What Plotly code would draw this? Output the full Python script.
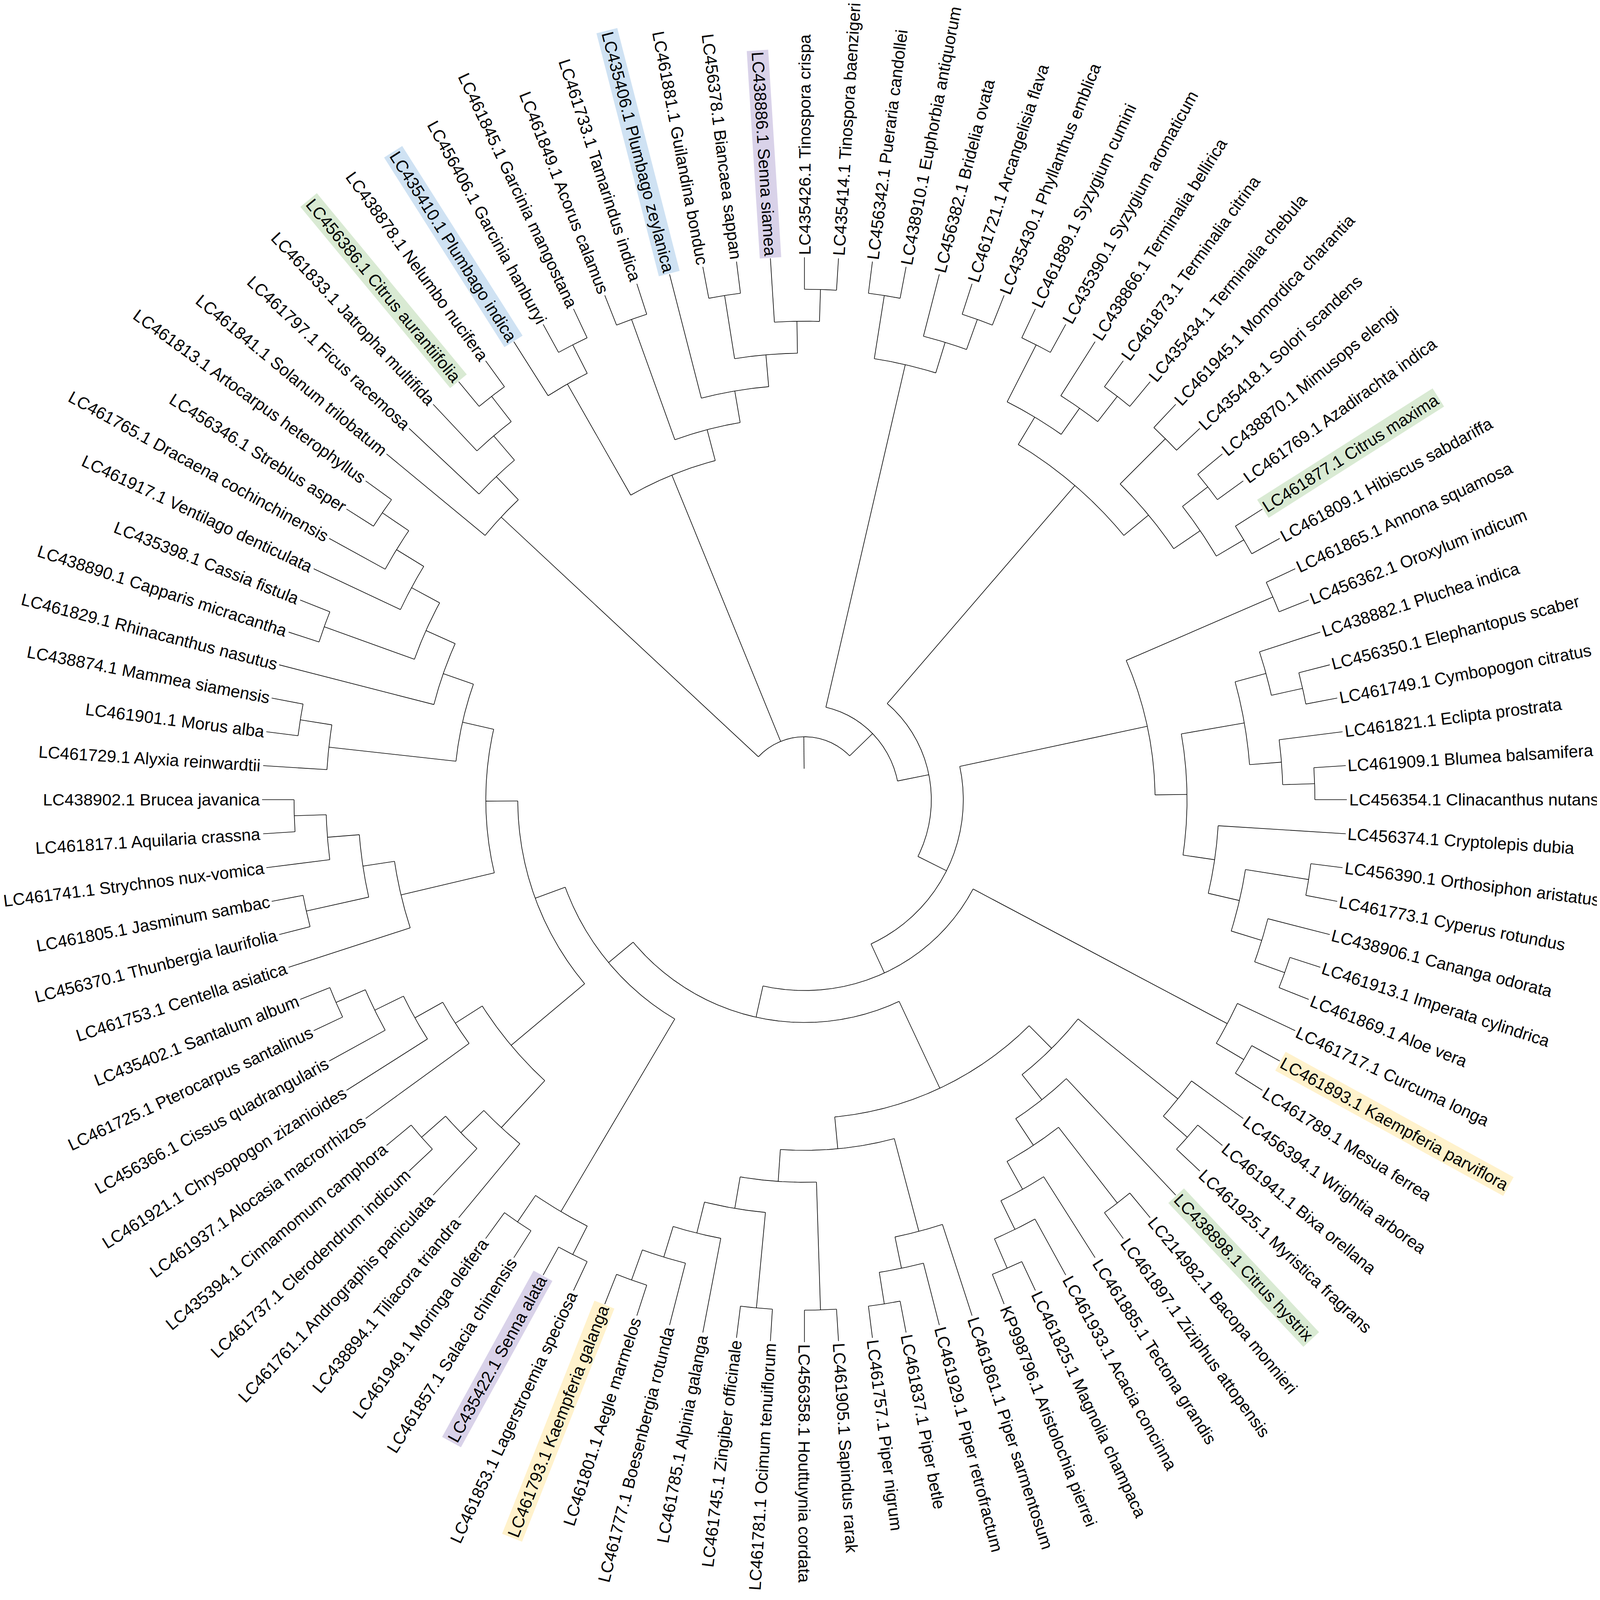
import numpy as np
import plotly.graph_objects as go

# tip labels, numbered clockwise from 12 o'clock (1 = Tinospora crispa)
labels = [
    "LC435426.1 Tinospora crispa", "LC435414.1 Tinospora baenzigeri",
    "LC456342.1 Pueraria candollei", "LC438910.1 Euphorbia antiquorum",
    "LC456382.1 Bridelia ovata", "LC461721.1 Arcangelisia flava",
    "LC435430.1 Phyllanthus emblica", "LC461889.1 Syzygium cumini",
    "LC435390.1 Syzygium aromaticum", "LC438866.1 Terminalia bellirica",
    "LC461873.1 Terminalia citrina", "LC435434.1 Terminalia chebula",
    "LC461945.1 Momordica charantia", "LC435418.1 Solori scandens",
    "LC438870.1 Mimusops elengi", "LC461769.1 Azadirachta indica",
    "LC461877.1 Citrus maxima", "LC461809.1 Hibiscus sabdariffa",
    "LC461865.1 Annona squamosa", "LC456362.1 Oroxylum indicum",
    "LC438882.1 Pluchea indica", "LC456350.1 Elephantopus scaber",
    "LC461749.1 Cymbopogon citratus", "LC461821.1 Eclipta prostrata",
    "LC461909.1 Blumea balsamifera", "LC456354.1 Clinacanthus nutans",
    "LC456374.1 Cryptolepis dubia", "LC456390.1 Orthosiphon aristatus",
    "LC461773.1 Cyperus rotundus", "LC438906.1 Cananga odorata",
    "LC461913.1 Imperata cylindrica", "LC461869.1 Aloe vera",
    "LC461717.1 Curcuma longa", "LC461893.1 Kaempferia parviflora",
    "LC461789.1 Mesua ferrea", "LC456394.1 Wrightia arborea",
    "LC461941.1 Bixa orellana", "LC461925.1 Myristica fragrans",
    "LC438898.1 Citrus hystrix", "LC214982.1 Bacopa monnieri",
    "LC461897.1 Ziziphus attopensis", "LC461885.1 Tectona grandis",
    "LC461933.1 Acacia concinna", "LC461825.1 Magnolia champaca",
    "KP998796.1 Aristolochia pierrei", "LC461861.1 Piper sarmentosum",
    "LC461929.1 Piper retrofractum", "LC461837.1 Piper betle",
    "LC461757.1 Piper nigrum", "LC461905.1 Sapindus rarak",
    "LC456358.1 Houttuynia cordata", "LC461781.1 Ocimum tenuiflorum",
    "LC461745.1 Zingiber officinale", "LC461785.1 Alpinia galanga",
    "LC461777.1 Boesenbergia rotunda", "LC461801.1 Aegle marmelos",
    "LC461793.1 Kaempferia galanga", "LC461853.1 Lagerstroemia speciosa",
    "LC435422.1 Senna alata", "LC461857.1 Salacia chinensis",
    "LC461949.1 Moringa oleifera", "LC438894.1 Tiliacora triandra",
    "LC461761.1 Andrographis paniculata", "LC461737.1 Clerodendrum indicum",
    "LC435394.1 Cinnamomum camphora", "LC461937.1 Alocasia macrorrhizos",
    "LC461921.1 Chrysopogon zizanioides", "LC456366.1 Cissus quadrangularis",
    "LC461725.1 Pterocarpus santalinus", "LC435402.1 Santalum album",
    "LC461753.1 Centella asiatica", "LC456370.1 Thunbergia laurifolia",
    "LC461805.1 Jasminum sambac", "LC461741.1 Strychnos nux-vomica",
    "LC461817.1 Aquilaria crassna", "LC438902.1 Brucea javanica",
    "LC461729.1 Alyxia reinwardtii", "LC461901.1 Morus alba",
    "LC438874.1 Mammea siamensis", "LC461829.1 Rhinacanthus nasutus",
    "LC438890.1 Capparis micracantha", "LC435398.1 Cassia fistula",
    "LC461917.1 Ventilago denticulata", "LC461765.1 Dracaena cochinchinensis",
    "LC456346.1 Streblus asper", "LC461813.1 Artocarpus heterophyllus",
    "LC461841.1 Solanum trilobatum", "LC461797.1 Ficus racemosa",
    "LC461833.1 Jatropha multifida", "LC456386.1 Citrus aurantiifolia",
    "LC438878.1 Nelumbo nucifera", "LC435410.1 Plumbago indica",
    "LC456406.1 Garcinia hanburyi", "LC461845.1 Garcinia mangostana",
    "LC461849.1 Acorus calamus", "LC461733.1 Tamarindus indica",
    "LC435406.1 Plumbago zeylanica", "LC461881.1 Guilandina bonduc",
    "LC456378.1 Biancaea sappan", "LC438886.1 Senna siamea",
]

# topology (cladogram, no branch lengths), tips given by their number above
clade_ficus = (87, (88, (89, (90, 91))))
clade_plumbago = ((92, (93, 94)), ((95, 96), (97, ((98, 99), (100, (1, 2))))))
clade_euphorbia = ((3, 4), (5, (6, 7)))
clade_terminalia = (((8, 9), (10, (11, 12))), ((13, 14), ((15, 16), (17, 18))))
clade_blumea = ((19, 20), (((21, (22, 23)), (24, (25, 26))),
                           (27, ((28, 29), (30, (31, 32))))))
clade_curcuma = (33, (34, 35))
clade_bixa = ((36, (37, 38)), (39, ((40, 41), (42, (43, (44, 45))))))
clade_piper = ((46, (47, (48, 49))), ((50, 51), ((52, 53), (54, (55, (56, 57))))))
clade_senna = ((58, 59), (60, 61))
clade_santalum = ((62, (63, (64, 65))), (66, (67, (68, (69, 70)))))
clade_centella = (71, ((72, 73), (74, (75, 76))))
clade_morus = ((77, (78, 79)), (80, ((81, 82), (83, (84, (85, 86))))))

backbone = (clade_euphorbia, (clade_terminalia, (clade_blumea, (clade_curcuma,
            ((clade_bixa, clade_piper), (clade_senna, (clade_santalum,
            (clade_centella, clade_morus))))))))
tree = (clade_ficus, clade_plumbago, backbone)

# highlighted tips and their fill colours
hl_tips = [90, 92, 97, 100, 17, 34, 39, 57, 59]
hl_colors = ["#d9ead3", "#cfe2f3", "#cfe2f3", "#d9d2e9", "#d9ead3",
             "#fff2cc", "#d9ead3", "#fff2cc", "#d9d2e9"]

# ---- layout (data units = pixels of the 6633 x 6600 picture) ----
IMG_W, IMG_H = 6633, 6600
FIG_W = 4096                     # css width of the page the picture is taken from
K = IMG_W / FIG_W                # picture pixels per css pixel
FIG_H = round(IMG_H / K)
CX, CY = 3322, 3302              # centre of the circle
R0, DR = 261, 132.5              # radius of root and of one cladogram level
STEP = 3.6                       # degrees between tips
FONT = 70 / K
PAD = 5 / K

order = []


def collect(n):
    if isinstance(n, int):
        order.append(n)
    else:
        for c in n:
            collect(c)


collect(tree)
a0 = 90 + STEP * order.index(1)
tip_ang = {t: a0 - STEP * i for i, t in enumerate(order)}


def height(n):
    if isinstance(n, int):
        return 0
    return 1 + max(height(c) for c in n)


HMAX = height(tree)
rad = lambda n: R0 + DR * (HMAX - height(n))

xs, ys = [], []


def seg(r1, r2, a):
    t = np.radians(a)
    xs.extend([r1 * np.cos(t), r2 * np.cos(t), None])
    ys.extend([r1 * np.sin(t), r2 * np.sin(t), None])


def arc(r, a1, a2):
    n = max(2, int(abs(a2 - a1) / 0.4) + 2)
    t = np.radians(np.linspace(a1, a2, n))
    xs.extend(list(r * np.cos(t)) + [None])
    ys.extend(list(r * np.sin(t)) + [None])


def draw(n):
    if isinstance(n, int):
        return tip_ang[n]
    angs = [draw(c) for c in n]
    r = rad(n)
    arc(r, angs[0], angs[-1])
    for c, a in zip(n, angs):
        seg(r, rad(c), a)
    return (angs[0] + angs[-1]) / 2


root_a = draw(tree)
seg(R0 - DR, R0, root_a)

fig = go.Figure()
fig.add_trace(go.Scatter(x=xs, y=ys, mode="lines", hoverinfo="skip",
                         line=dict(color="black", width=2.6 / K)))

cw = {" ": 278, ".": 278, "-": 333}
cw.update({d: 556 for d in "0123456789"})
cw.update(dict(zip("ABCDEFGHIJKLMNOPQRSTUVWXYZ",
                   [667, 667, 722, 722, 667, 611, 778, 722, 278, 500, 667, 556, 833,
                    722, 778, 667, 778, 722, 667, 611, 722, 667, 944, 667, 667, 611])))
cw.update(dict(zip("abcdefghijklmnopqrstuvwxyz",
                   [556, 556, 500, 556, 556, 278, 556, 556, 222, 222, 500, 222, 833,
                    556, 556, 556, 556, 333, 500, 278, 556, 500, 722, 500, 500, 500])))

hl = dict(zip(hl_tips, hl_colors))
r_tip = R0 + DR * HMAX
for t in order:
    lab = labels[t - 1]
    a = tip_ang[t]
    w = sum(cw.get(ch, 556) for ch in lab) / 1000 * FONT * K
    rc = r_tip + 4 + 5 + w / 2
    th = np.radians(a)
    if round(np.cos(th), 9) >= 0:
        ta = -a
    else:
        ta = 180 - a
    ta = (ta + 180) % 360 - 180
    fig.add_annotation(x=rc * np.cos(th), y=rc * np.sin(th), xref="x", yref="y",
                       text=lab, showarrow=False, textangle=ta,
                       xanchor="center", yanchor="middle",
                       bgcolor=hl.get(t, "rgba(0,0,0,0)"), borderpad=PAD,
                       font=dict(family="Liberation Sans, Arial, sans-serif",
                                 size=FONT, color="black"))

fig.update_layout(width=FIG_W, height=FIG_H, autosize=False,
                  margin=dict(l=0, r=0, t=0, b=0),
                  paper_bgcolor="white", plot_bgcolor="white", showlegend=False)
fig.update_xaxes(range=[-CX, IMG_W - CX], visible=False)
fig.update_yaxes(range=[CY - IMG_H, CY], visible=False)

fig.write_html("out.html")
